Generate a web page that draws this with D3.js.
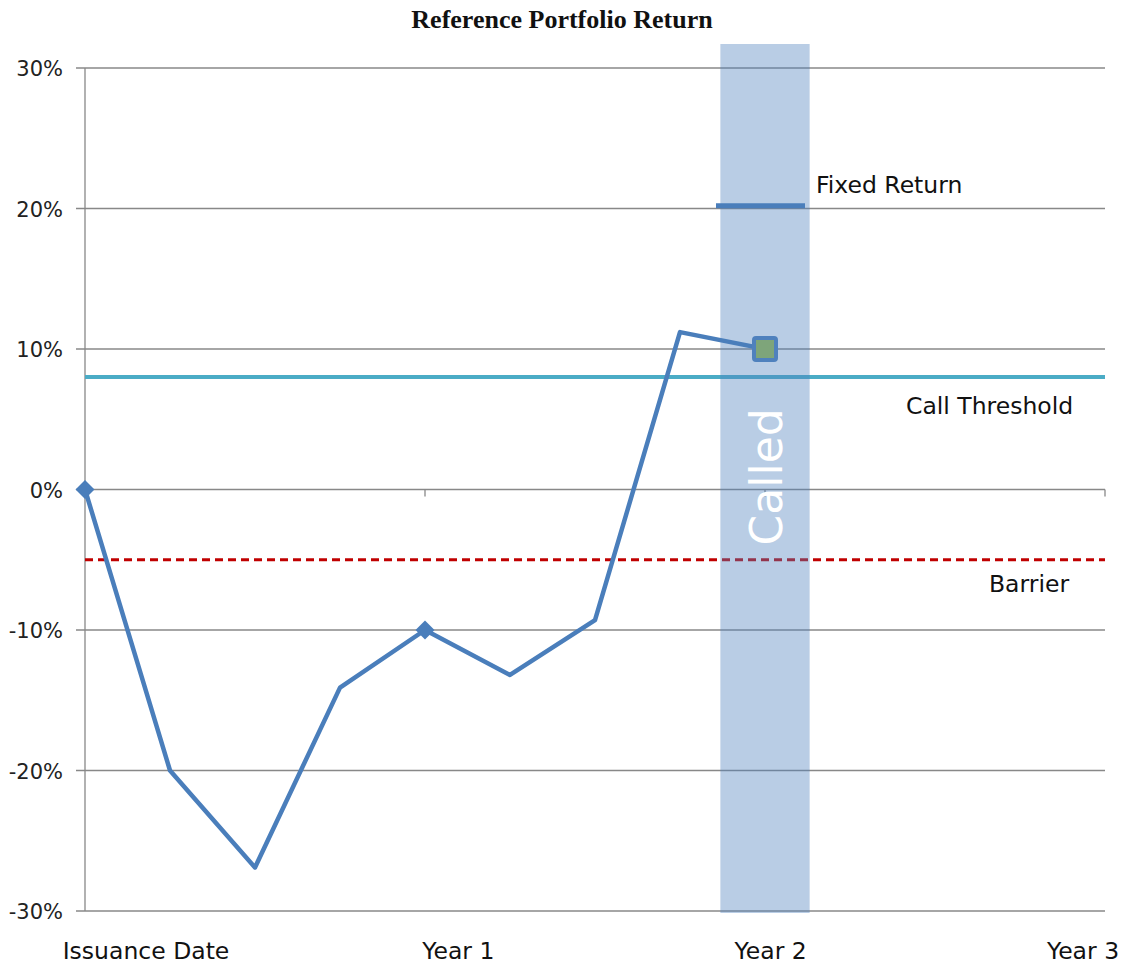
<!DOCTYPE html>
<html><head><meta charset="utf-8">
<script src="https://cdn.jsdelivr.net/npm/d3@7"></script>
<style>body{margin:0;background:#fff}svg{display:block}</style>
</head><body>
<script>
const xLabels = ["Issuance Date", "Year 1", "Year 2", "Year 3"];
const xTickYears = [0, 1, 2, 3];
const yTicks = [-0.3, -0.2, -0.1, 0, 0.1, 0.2, 0.3];
const quarters = [0, 0.25, 0.5, 0.75, 1, 1.25, 1.5, 1.75, 2];
const returns = [0, -0.20, -0.269, -0.141, -0.10, -0.132, -0.093, 0.112, 0.10];
const diamondYears = [0, 1];
const calledYear = 2;
const callThreshold = 0.08;
const barrier = -0.05;
const fixedReturn = 0.202;

const W = 1130, H = 971;
const svg = d3.select("body").append("svg").attr("width", W).attr("height", H);
const font = "Tahoma, 'DejaVu Sans', sans-serif";

const x = d3.scaleLinear().domain([0, 3]).range([85, 1105]);
const y = d3.scaleLinear().domain([-0.3, 0.3]).range([911, 68]);
const xl = d3.scalePoint().domain(xLabels).range([146, 1083]);

// title
svg.append("text").attr("x", 562).attr("y", 28).attr("text-anchor", "middle")
  .attr("font-family", "'Liberation Serif', 'Times New Roman', serif").attr("font-weight", "bold")
  .attr("font-size", 26).attr("fill", "#111").text("Reference Portfolio Return");

// gridlines
svg.append("g").selectAll("line").data(yTicks).join("line")
  .attr("x1", 76).attr("x2", x(3)).attr("y1", d => y(d)).attr("y2", d => y(d))
  .attr("stroke", "#888").attr("stroke-width", 1.3);
// y axis line
svg.append("line").attr("x1", x(0)).attr("x2", x(0)).attr("y1", y(0.3)).attr("y2", y(-0.3))
  .attr("stroke", "#888").attr("stroke-width", 1.3);
// x ticks at 0 line
svg.append("g").selectAll("line").data(xTickYears.slice(1)).join("line")
  .attr("x1", d => x(d)).attr("x2", d => x(d)).attr("y1", y(0)).attr("y2", y(0) + 7)
  .attr("stroke", "#888").attr("stroke-width", 1.3);

// y labels
svg.append("g").selectAll("text").data(yTicks).join("text")
  .attr("x", 63).attr("y", d => y(d) + 8).attr("text-anchor", "end")
  .attr("font-family", font).attr("font-size", 21).attr("fill", "#222")
  .text(d => d3.format(".0%")(d).replace("\u2212", "-"));
// x labels
svg.append("g").selectAll("text").data(xLabels).join("text")
  .attr("x", d => xl(d)).attr("y", 959).attr("text-anchor", "middle")
  .attr("font-family", font).attr("font-size", 23.5).attr("fill", "#111")
  .text(d => d);

// call threshold
svg.append("line").attr("x1", x(0)).attr("x2", x(3)).attr("y1", y(callThreshold)).attr("y2", y(callThreshold))
  .attr("stroke", "#4bacc6").attr("stroke-width", 4);
// barrier
svg.append("line").attr("x1", x(0)).attr("x2", x(3)).attr("y1", y(barrier)).attr("y2", y(barrier))
  .attr("stroke", "#c00000").attr("stroke-width", 3).attr("stroke-dasharray", "8,5");

// called band
const bandHalf = (x(0.25) - x(0)) * 0.525;
svg.append("rect").attr("x", x(calledYear) - bandHalf).attr("width", bandHalf * 2)
  .attr("y", 44).attr("height", y(-0.3) + 2 - 44)
  .attr("fill", "#4f81bd").attr("fill-opacity", 0.4);

svg.append("text").attr("transform", `translate(${x(calledYear) + 17},${y(0.009)}) rotate(-90)`)
  .attr("text-anchor", "middle").attr("font-family", font).attr("font-size", 44)
  .attr("fill", "#fff").text("Called");

// fixed return line
svg.append("line").attr("x1", x(calledYear) - 49).attr("x2", x(calledYear) + 40)
  .attr("y1", y(fixedReturn)).attr("y2", y(fixedReturn))
  .attr("stroke", "#4a7ebb").attr("stroke-width", 5);

// series line
const line = d3.line().x((d, i) => x(quarters[i])).y(d => y(d));
svg.append("path").datum(returns).attr("d", line).attr("fill", "none")
  .attr("stroke", "#4a7ebb").attr("stroke-width", 4.5).attr("stroke-linejoin", "round");

// diamonds
svg.append("g").selectAll("path").data(diamondYears).join("path")
  .attr("d", d3.symbol().type(d3.symbolDiamond2).size(230))
  .attr("transform", d => `translate(${x(d)},${y(returns[quarters.indexOf(d)])})`)
  .attr("fill", "#4a7ebb");

// called square
svg.append("rect").attr("x", x(calledYear) - 11).attr("y", y(returns[quarters.indexOf(calledYear)]) - 11)
  .attr("width", 22).attr("height", 22).attr("rx", 2)
  .attr("fill", "#7ea57a").attr("stroke", "#4f81bd").attr("stroke-width", 4);

// annotations
const ann = [
  {t: "Fixed Return", x: 816, v: fixedReturn, dy: -13},
  {t: "Call Threshold", x: 906, v: callThreshold, dy: 37},
  {t: "Barrier", x: 989, v: barrier, dy: 32}
];
svg.append("g").selectAll("text").data(ann).join("text")
  .attr("x", d => d.x).attr("y", d => y(d.v) + d.dy)
  .attr("font-family", font).attr("font-size", 23.5).attr("fill", "#111").text(d => d.t);
</script>
</body></html>
